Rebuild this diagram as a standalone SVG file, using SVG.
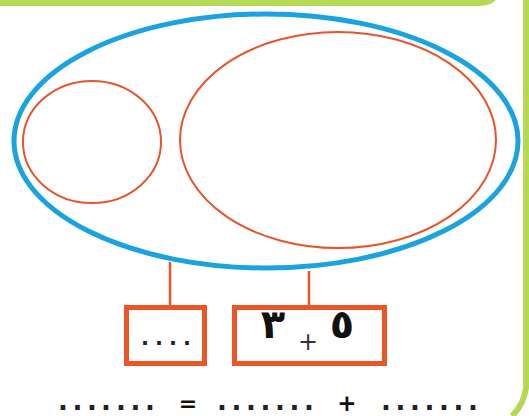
<svg xmlns="http://www.w3.org/2000/svg" width="529" height="416" viewBox="0 0 529 416">
<style>
.blue{fill:none;stroke:#1aa3df;stroke-width:5}
.set{fill:none;stroke:#e8542a;stroke-width:2}
.box{fill:#fff;stroke:#ec5525;stroke-width:5}
.conn{stroke:#e8542a;stroke-width:2.5}
.dig{font-family:"DejaVu Sans",sans-serif;font-weight:bold;fill:#111;text-anchor:middle}
.dots{font-family:"DejaVu Sans",sans-serif;font-weight:bold;fill:#222;text-anchor:middle}
</style>
<rect width="529" height="416" fill="#fff"/>
<path d="M0 0 H496 Q490 6 478 6 H0 Z" fill="#b6d955"/>
<path d="M526 0 V388 Q524 404 512 416" fill="none" stroke="#b6d955" stroke-width="6"/>
<g id="connectors">
<line class="conn" x1="170" y1="262" x2="170" y2="306"/>
<line class="conn" x1="309" y1="271" x2="309" y2="306"/>
</g>
<g id="universe"><ellipse class="blue" cx="266" cy="141" rx="252" ry="127"/></g>
<g id="set-small"><ellipse class="set" cx="92" cy="142" rx="69" ry="61"/></g>
<g id="set-large"><ellipse class="set" cx="338" cy="140" rx="158" ry="108"/></g>
<g id="box-left">
<rect class="box" x="126.5" y="307.5" width="78" height="56"/>
<text class="dots" font-size="21" x="145 159 173 187" y="345">....</text>
</g>
<g id="box-right">
<rect class="box" x="234.5" y="307.5" width="150" height="56"/>
<text class="dig" font-size="40" x="273" y="338">٣</text>
<text x="308" y="350" font-family="DejaVu Sans,sans-serif" font-size="24" fill="#333" text-anchor="middle">+</text>
<text class="dig" font-size="40" x="342" y="338">٥</text>
</g>
<g id="equation">
<text class="dots" font-size="26" x="63 77.5 92 106 121 135.5 150" y="410">.......</text>
<text class="dig" font-size="22" x="188" y="411">=</text>
<text class="dots" font-size="26" x="222 236.5 251 265.5 280 294.5 309" y="410">.......</text>
<text class="dig" font-size="23" x="347" y="411">+</text>
<text class="dots" font-size="26" x="386 400.5 415 429.5 444 458.5 473" y="410">.......</text>
</g>
</svg>
